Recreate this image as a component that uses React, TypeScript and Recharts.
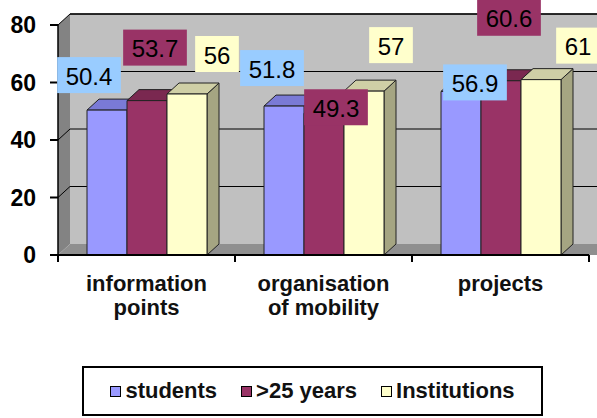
import { Bar, BarChart, LabelList, Legend, ReferenceArea, XAxis, YAxis } from "recharts";

const FONT = '"Liberation Sans", Arial, sans-serif';

const categories = ["information points", "organisation of mobility", "projects"];
const students = [50.4, 51.8, 56.9];
const over25 = [53.7, 49.3, 60.6];
const institutions = [56, 57, 61];
const yTicks = [0, 20, 40, 60, 80];
const seriesNames = ["students", ">25 years", "Institutions"];

const chartData = categories.map((category, i) => ({
  category,
  students: students[i],
  over25: over25[i],
  institutions: institutions[i]
}));

// fake 3d depth
const DX = 12;
const DY = 11;

const palette: Record<string, { front: string; top: string; side: string; label: string }> = {
  students: { front: "#9999ff", top: "#7a7ad6", side: "#6a6ab8", label: "#99ccff" },
  over25: { front: "#993366", top: "#7a2850", side: "#662244", label: "#993366" },
  institutions: { front: "#ffffcc", top: "#cfcfa6", side: "#a5a582", label: "#ffffcc" }
};

// excel dropped the value boxes in odd spots; nudge from the bar's top centre
const labelNudge: Record<string, number[][]> = {
  students: [[-18, -35], [-12, -38], [14, -9]],
  over25: [[8, -53], [12, -6], [8, -63]],
  institutions: [[30, -40], [27, -46], [37, -34]]
};

// greedy word wrap, ~12 chars a line like the original
function wrapWords(text: string, maxChars = 12) {
  const lines: string[] = [];
  let line = "";
  for (const word of text.split(" ")) {
    const next = line ? `${line} ${word}` : word;
    if (line && next.length > maxChars) {
      lines.push(line);
      line = word;
    } else {
      line = next;
    }
  }
  if (line) lines.push(line);
  return lines;
}

function Walls(props: any) {
  const { x, y, width, height } = props;
  const bottom = y + height;
  const right = x + width + 30;
  return (
    <g>
      <rect x={x + DX} y={y - DY} width={right - x} height={height} fill="#c0c0c0" />
      <line x1={x + DX} y1={y - DY} x2={right} y2={y - DY} stroke="#222" strokeWidth={1.5} />
      <polygon
        points={`${x},${y} ${x + DX},${y - DY} ${x + DX},${bottom - DY} ${x},${bottom}`}
        fill="#838383"
      />
      <polygon
        points={`${x},${bottom} ${x + DX},${bottom - DY} ${right},${bottom - DY} ${right - DX},${bottom}`}
        fill="#8f8f8f"
      />
      {yTicks
        .filter((t) => t > 0)
        .map((t) => {
          const gy = bottom - (t / 80) * height;
          return (
            <polyline
              key={t}
              points={`${x},${gy} ${x + DX},${gy - DY} ${right},${gy - DY}`}
              fill="none"
              stroke="#000"
              strokeWidth={1}
            />
          );
        })}
    </g>
  );
}

function makeBar3D(key: string) {
  const c = palette[key];
  return (props: any) => {
    const { x, y, width, height } = props;
    if (!height || height <= 0) return <g />;
    const r = x + width;
    const b = y + height;
    return (
      <g stroke="#222" strokeWidth={1} strokeLinejoin="round">
        <polygon points={`${r},${y} ${r + DX},${y - DY} ${r + DX},${b - DY} ${r},${b}`} fill={c.side} />
        <polygon points={`${x},${y} ${x + DX},${y - DY} ${r + DX},${y - DY} ${r},${y}`} fill={c.top} />
        <rect x={x} y={y} width={width} height={height} fill={c.front} />
      </g>
    );
  };
}

function makeValueLabel(key: string) {
  return (props: any) => {
    const vb = props.viewBox ?? props;
    const { x, y, width } = vb;
    const [dx, dy] = labelNudge[key][props.index] ?? [0, -24];
    const text = String(props.value);
    const digits = text.replace(/[^0-9]/g, "").length;
    const w = digits * 13.35 + (text.length - digits) * 6.67 + 17;
    const cx = x + width / 2 + dx;
    const cy = y + dy;
    return (
      <g>
        <rect x={cx - w / 2} y={cy - 18} width={w} height={36} fill={palette[key].label} />
        <text
          x={cx}
          y={cy + 1}
          textAnchor="middle"
          dominantBaseline="central"
          fontSize={24}
          fontFamily={FONT}
          fill="#000"
        >
          {text}
        </text>
      </g>
    );
  };
}

function CategoryTick(props: any) {
  const { x, y, payload, index } = props;
  const half = payload?.offset ?? 88.5;
  const lines = wrapWords(String(payload.value));
  return (
    <g>
      <line x1={x - half} y1={y} x2={x - half} y2={y + 7} stroke="#000" strokeWidth={2} />
      {index === categories.length - 1 && (
        <line x1={x + half} y1={y} x2={x + half} y2={y + 7} stroke="#000" strokeWidth={2} />
      )}
      <text
        x={x}
        y={y + 36}
        textAnchor="middle"
        fill="#111"
        fontSize={22}
        fontWeight="bold"
        fontFamily={FONT}
      >
        {lines.map((line, i) => (
          <tspan key={line} x={x} dy={i === 0 ? 0 : 24}>
            {line}
          </tspan>
        ))}
      </text>
    </g>
  );
}

function LegendBox({ payload }: any) {
  const items = [...(payload ?? [])].sort(
    (a: any, b: any) => seriesNames.indexOf(a.value) - seriesNames.indexOf(b.value)
  );
  return (
    <div
      style={{
        boxSizing: "border-box",
        width: "100%",
        height: "100%",
        border: "2px solid #000",
        display: "flex",
        alignItems: "center",
        justifyContent: "center",
        gap: 24,
        fontFamily: FONT,
        fontWeight: "bold",
        fontSize: 22,
        color: "#111",
        background: "#fff"
      }}
    >
      {items.map((entry: any) => (
        <span key={entry.value} style={{ display: "flex", alignItems: "center" }}>
          <span
            style={{
              display: "inline-block",
              boxSizing: "border-box",
              width: 11,
              height: 11,
              border: "1.5px solid #000",
              background: entry.color,
              marginRight: 4
            }}
          />
          {entry.value}
        </span>
      ))}
    </div>
  );
}

export default function App() {
  return (
    <div style={{ position: "absolute", left: 0, top: 0, background: "#fff" }}>
      <BarChart
        width={597}
        height={418}
        data={chartData}
        margin={{ top: 25, right: 8, bottom: 13, left: 0 }}
        barCategoryGap={29}
        barGap={0}
      >
        <ReferenceArea y1={0} y2={80} shape={Walls} ifOverflow="visible" />
        <XAxis
          dataKey="category"
          interval={0}
          height={100}
          tickSize={0}
          tickMargin={0}
          tickLine={false}
          axisLine={{ stroke: "#000", strokeWidth: 2 }}
          tick={CategoryTick}
        />
        <YAxis
          domain={[0, 80]}
          ticks={yTicks}
          interval={0}
          width={58}
          tickSize={8}
          tickMargin={14}
          axisLine={{ stroke: "#000", strokeWidth: 1.5 }}
          tickLine={{ stroke: "#000", strokeWidth: 2 }}
          tick={{ fontSize: 23, fontWeight: "bold", fill: "#000", fontFamily: FONT }}
        />
        <Bar
          dataKey="students"
          name={seriesNames[0]}
          fill={palette.students.front}
          shape={makeBar3D("students")}
          isAnimationActive={false}
        >
          <LabelList dataKey="students" content={makeValueLabel("students")} />
        </Bar>
        <Bar
          dataKey="over25"
          name={seriesNames[1]}
          fill={palette.over25.front}
          shape={makeBar3D("over25")}
          isAnimationActive={false}
        >
          <LabelList dataKey="over25" content={makeValueLabel("over25")} />
        </Bar>
        <Bar
          dataKey="institutions"
          name={seriesNames[2]}
          fill={palette.institutions.front}
          shape={makeBar3D("institutions")}
          isAnimationActive={false}
        >
          <LabelList dataKey="institutions" content={makeValueLabel("institutions")} />
        </Bar>
        <Legend
          verticalAlign="bottom"
          height={50}
          content={LegendBox}
          wrapperStyle={{ left: 82, top: 366, width: 461, height: 50 }}
        />
      </BarChart>
    </div>
  );
}
